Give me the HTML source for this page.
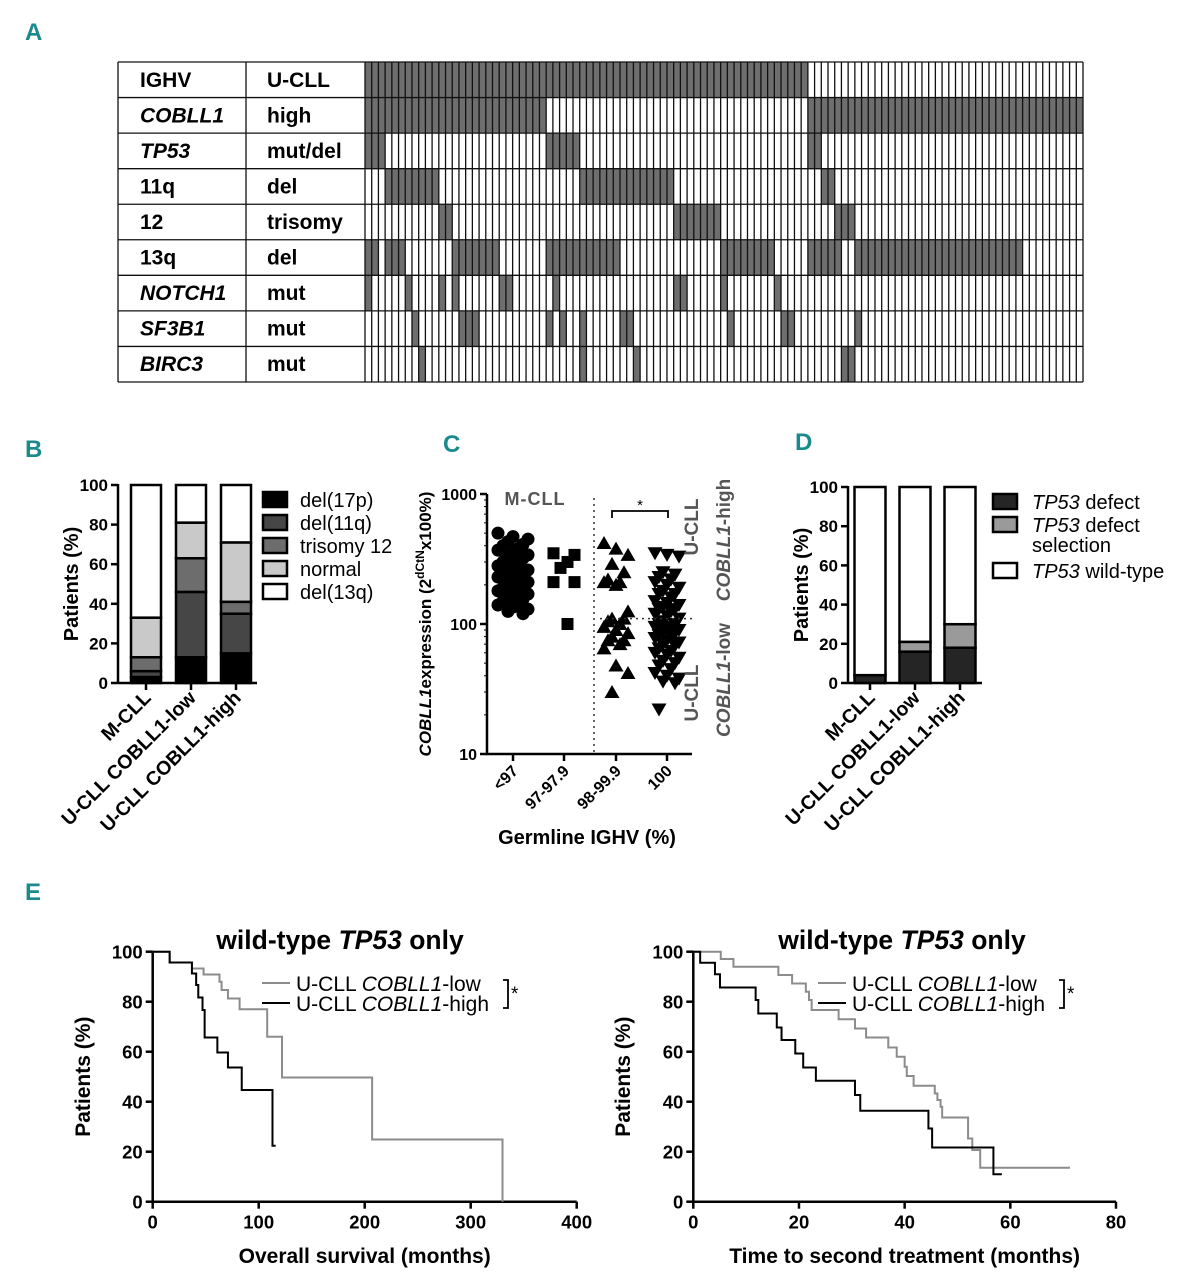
<!DOCTYPE html>
<html><head><meta charset="utf-8"><style>
html,body{margin:0;padding:0;background:#fff;}
svg{display:block;font-family:"Liberation Sans",Arial,sans-serif;}
.pl{font-family:"Liberation Sans Narrow","Liberation Sans",sans-serif;font-weight:bold;fill:#1b8a8c;font-size:24px;}
</style></head><body>
<svg id="fig" width="1177" height="1280" viewBox="0 0 1177 1280" xmlns="http://www.w3.org/2000/svg">
<text class="pl" x="25" y="40">A</text>
<text class="pl" x="25" y="457">B</text>
<text class="pl" x="443" y="452">C</text>
<text class="pl" x="795" y="450">D</text>
<text class="pl" x="25" y="900">E</text>
<g id="gA"></g>
<g id="gB"></g>
<g id="gC"></g>
<g id="gD"></g>
<g id="gE1"></g>
<g id="gE2"></g>
</svg>
<script>
// ---------- Panel A data ----------
const aLabels1 = ["IGHV","COBLL1","TP53","11q","12","13q","NOTCH1","SF3B1","BIRC3"];
const aItalic = [false,true,true,false,false,false,true,true,true];
const aLabels2 = ["U-CLL","high","mut/del","del","trisomy","del","mut","mut","mut"];
const aNumCols = 107;
const aRanges = [
 [[0,65]],
 [[0,26],[66,106]],
 [[0,2],[27,31],[66,67]],
 [[3,10],[32,45],[68,69]],
 [[11,12],[46,52],[70,72]],
 [[0,1],[3,5],[13,19],[27,37],[53,60],[66,70],[73,97]],
 [[0,0],[6,6],[11,11],[13,13],[20,21],[28,28],[46,47],[53,53],[61,61]],
 [[7,7],[14,16],[27,27],[29,29],[32,32],[38,39],[54,54],[62,63],[73,73]],
 [[8,8],[32,32],[40,40],[71,72]]
];
// ---------- Panel B data ----------
const bCats = ["M-CLL","U-CLL COBLL1-low","U-CLL COBLL1-high"];
const bSeries = ["del(17p)","del(11q)","trisomy 12","normal","del(13q)"];
const bDel17p = [3,13,15];
const bDel11q = [3,33,20];
const bTri12 = [7,17,6];
const bNormal = [20,18,30];
const bDel13q = [67,19,29];
const bTicks = [0,20,40,60,80,100];
// ---------- Panel C data ----------
const cCats = ["<97","97-97.9","98-99.9","100"];
const cTicks = [10,100,1000];
const cLt97 = [500,470,450,430,410,400,380,370,350,340,330,320,300,290,280,270,260,260,250,240,230,230,220,210,200,195,190,185,180,175,170,160,155,150,145,140,135,130,125,120];
const c97 = [350,340,300,270,210,210,100];
const c98 = [420,380,340,290,250,220,210,210,200,125,110,110,105,100,95,90,85,80,75,75,70,65,48,42,30];
const c100 = [350,340,330,250,240,230,220,210,200,190,180,170,170,160,150,145,140,135,130,130,125,120,115,110,105,100,100,95,95,92,90,88,85,82,80,78,75,72,70,68,65,62,60,58,55,52,50,48,45,42,40,38,36,35,22];
const cCutoff = 110;
// ---------- Panel D data ----------
const dCats = ["M-CLL","U-CLL COBLL1-low","U-CLL COBLL1-high"];
const dDefect = [4,16,18];
const dSelection = [0,5,12];
const dWild = [96,79,70];
// ---------- Panel E data ----------
const e1Ticks = [0,100,200,300,400];
const eYTicks = [0,20,40,60,80,100];
const e1LowT = [0,16,37,48,63,65,71,82,108,122,207,330];
const e1LowS = [100,95.7,93.3,90.9,88,84.7,81.3,77,66,49.7,24.9,0];
const e1LowEnd = 330;
const e1HighT = [0,16,37,41,43,47,49,61,71,84,113];
const e1HighS = [100,95.7,91.3,86.7,81.7,76.7,65.7,59.7,53.7,44.7,22.4];
const e1HighEnd = 116;
const e2Ticks = [0,20,40,60,80];
const e2LowT = [0,5.2,7.6,16.1,18.7,21.3,21.9,22.4,27.5,30.6,32.7,36.9,38.5,40,40.4,41.7,45.7,46.2,46.8,47.1,52,52.8,54.3];
const e2LowS = [100,97.1,94,90.7,87.3,84,80.7,76.7,73,69.3,65.7,61.7,58,54,50.3,46.4,43.3,40.7,38,33.7,25.3,20.7,13.6];
const e2LowEnd = 71.3;
const e2HighT = [0,1.3,4.1,5.05,11.8,12.3,15.8,16.7,19.3,20.8,23.2,30.6,31.6,44.5,45.2,56.8];
const e2HighS = [100,95.6,91,85.7,80.7,75.3,69.7,64.7,59.3,53.7,48.4,42.7,36.4,29.3,21.7,11];
const e2HighEnd = 58.4;

const NS="http://www.w3.org/2000/svg";
function mk(parent,tag,attrs,txt){const e=document.createElementNS(NS,tag);for(const k in attrs)e.setAttribute(k,attrs[k]);if(txt!==undefined)e.textContent=txt;parent.appendChild(e);return e;}

// ================= Panel A =================
(function(){
 const g=document.getElementById('gA');
 const x0=118,xm=246,xg=365,x1=1083,y0=62,y1=382;
 const rh=(y1-y0)/aLabels1.length, cw=(x1-xg)/aNumCols;
 for(let r=0;r<aLabels1.length;r++){
  const yy=y0+r*rh;
  for(const [a,b] of aRanges[r]){
   const f=mk(g,'rect',{x:xg+a*cw,y:yy,width:(b-a+1)*cw,height:rh,fill:'#6e6e6e'});
   
   
  }
  const t1=mk(g,'text',{x:140,y:yy+rh/2+7,'font-size':21,'font-weight':'bold','font-style':aItalic[r]?'italic':'normal'},aLabels1[r]);
  
  
  const t2=mk(g,'text',{x:267,y:yy+rh/2+7,'font-size':21,'font-weight':'bold'},aLabels2[r]);
  
  
 }
 let d='';
 for(let c=0;c<=aNumCols;c++){const x=xg+c*cw;d+=`M${x},${y0}V${y1}`;}
 for(let r=0;r<=aLabels1.length;r++){const y=y0+r*rh;d+=`M${x0},${y}H${x1}`;}
 d+=`M${x0},${y0}V${y1}M${xm},${y0}V${y1}`;
 const p=mk(g,'path',{d:d,stroke:'#111',fill:'none','stroke-width':1.3});
 
 
})();

function yAxis(g,ax,yTop,yBot,ticks,max,lab,labX){
 const sc=v=>yBot-(v/max)*(yBot-yTop);
 const l=mk(g,'line',{x1:ax,y1:yTop-1,x2:ax,y2:yBot,stroke:'#000','stroke-width':2.5});
 
 
 for(const t of ticks){
  const tk=mk(g,'line',{x1:ax-7,y1:sc(t),x2:ax,y2:sc(t),stroke:'#000','stroke-width':2.5});
  
  
  const tl=mk(g,'text',{x:ax-10,y:sc(t)+6,'font-size':17,'font-weight':'bold','text-anchor':'end'},t);
  
  
 }
 const yt=mk(g,'text',{x:labX,y:(yTop+yBot)/2,'font-size':20,'font-weight':'bold','text-anchor':'middle',transform:`rotate(-90 ${labX} ${(yTop+yBot)/2})`},lab);
 
 
 return sc;
}

// ================= Panel B =================
(function(){
 const g=document.getElementById('gB');
 const ax=118,yTop=485,yBot=683,bw=30,centers=[146,191,236];
 const sc=yAxis(g,ax,yTop,yBot,bTicks,100,'Patients (%)',78);
 const xl=mk(g,'line',{x1:ax,y1:yBot,x2:257,y2:yBot,stroke:'#000','stroke-width':2.5});
 
 
 const series=[bDel17p,bDel11q,bTri12,bNormal,bDel13q];
 const cols=['#000','#464646','#6d6d6d','#c9c9c9','#fff'];
 for(let i=0;i<bCats.length;i++){
  let acc=0;
  for(let s=0;s<series.length;s++){
   const v=series[s][i];
   const r=mk(g,'rect',{x:centers[i]-bw/2,y:sc(acc+v),width:bw,height:sc(acc)-sc(acc+v),fill:cols[s],stroke:'#000','stroke-width':2.5});
   
   
   acc+=v;
  }
  const tk=mk(g,'line',{x1:centers[i],y1:yBot,x2:centers[i],y2:yBot+7,stroke:'#000','stroke-width':2.5});
  
  
  const t=mk(g,'text',{x:centers[i]+6,y:yBot+16,'font-size':19.5,'font-weight':'bold','text-anchor':'end',transform:`rotate(-45 ${centers[i]+6} ${yBot+16})`},bCats[i]);
  
  
 }
 for(let s=0;s<bSeries.length;s++){
  const yy=492+s*23;
  const sw=mk(g,'rect',{x:263,y:yy,width:24,height:15,fill:cols[s],stroke:'#000','stroke-width':2.5});
  
  
  const lt=mk(g,'text',{x:300,y:yy+15,'font-size':20},bSeries[s]);
  
  
 }
})();

// ================= Panel C =================
(function(){
 const g=document.getElementById('gC');
 const ax=487,yTop=494,yBot=754,dec=130;
 const sc=v=>yBot-dec*Math.log10(v/10);
 const xs=[513,564,616,667];
 const l=mk(g,'path',{d:`M${ax},${yTop}V${yBot}H692`,stroke:'#000','stroke-width':2.5,fill:'none'});
 
 
 for(const t of cTicks){
  const tk=mk(g,'line',{x1:ax-7,y1:sc(t),x2:ax,y2:sc(t),stroke:'#000','stroke-width':2.5});
  
  
  const tl=mk(g,'text',{x:ax-10,y:sc(t)+6,'font-size':16,'font-weight':'bold','text-anchor':'end'},t);
  
  
 }
 for(let d=1;d<=2;d++)for(let m=2;m<=9;m++){
  const v=m*Math.pow(10,d);
  const mt=mk(g,'line',{x1:ax-3,y1:sc(v),x2:ax,y2:sc(v),stroke:'#000','stroke-width':1});
  
  
 }
 for(let i=0;i<cCats.length;i++){
  const tk=mk(g,'line',{x1:xs[i],y1:yBot,x2:xs[i],y2:yBot+7,stroke:'#000','stroke-width':2.5});
  
  
  const t=mk(g,'text',{x:xs[i]+6,y:yBot+18,'font-size':16,'font-weight':'bold','text-anchor':'end',transform:`rotate(-45 ${xs[i]+6} ${yBot+18})`},cCats[i]);
  
  
 }
 const xt=mk(g,'text',{x:587,y:844,'font-size':20,'font-weight':'bold','text-anchor':'middle'},'Germline IGHV (%)');
 
 
 const yt=mk(g,'text',{x:431,y:624,'font-size':17,'font-weight':'bold','text-anchor':'middle',transform:'rotate(-90 431 624)'});
 
 
 yt.innerHTML='<tspan font-style="italic">COBLL1</tspan>expression (2<tspan dy="-7" font-size="12">dCtN</tspan><tspan dy="7">x100%)</tspan>';
 const jit=i=>((i*3)%7-3)*5;
 cLt97.forEach((v,i)=>{
  const c=mk(g,'circle',{cx:xs[0]+jit(i),cy:sc(v),r:6.5,fill:'#000'});
  
  
 });
 c97.forEach((v,i)=>{
  const x=xs[1]+((i*3)%4-1.5)*7;
  const c=mk(g,'rect',{x:x-6,y:sc(v)-6,width:12,height:12,fill:'#000'});
  
  
 });
 c98.forEach((v,i)=>{
  const x=xs[2]+jit(i)*0.8,y=sc(v);
  const c=mk(g,'path',{d:`M${x},${y-7}L${x+7.5},${y+6}L${x-7.5},${y+6}Z`,fill:'#000'});
  
  
 });
 c100.forEach((v,i)=>{
  const x=xs[3]+jit(i)*0.8,y=sc(v);
  const c=mk(g,'path',{d:`M${x},${y+7}L${x+7.5},${y-6}L${x-7.5},${y-6}Z`,fill:'#000'});
  
  
 });
 const vl=mk(g,'line',{x1:594,y1:yTop+4,x2:594,y2:yBot,stroke:'#333','stroke-width':1.5,'stroke-dasharray':'2 4'});
 
 
 const hl=mk(g,'line',{x1:600,y1:sc(cCutoff),x2:692,y2:sc(cCutoff),stroke:'#333','stroke-width':1.5,'stroke-dasharray':'2 4'});
 
 
 const br=mk(g,'path',{d:'M612,518V511H668V518',stroke:'#000','stroke-width':1.8,fill:'none'});
 
 
 const st=mk(g,'text',{x:640,y:510,'font-size':15,'text-anchor':'middle'},'*');
 
 
 const m=mk(g,'text',{x:535,y:505,'font-size':18,'font-weight':'bold',fill:'#555','text-anchor':'middle','letter-spacing':'1'},'M-CLL');
 
 
 const labs=[[698,527,'U-CLL',false],[730,540,'COBLL1-high',true],[698,693,'U-CLL',false],[730,680,'COBLL1-low',true]];
 for(const [x,y,s,it] of labs){
  const t=mk(g,'text',{x:x,y:y,'font-size':19,'font-weight':'bold',fill:'#555','text-anchor':'middle',transform:`rotate(-90 ${x} ${y})`});
  
  
  if(it){const p=s.split('-');t.innerHTML=`<tspan font-style="italic">${p[0]}</tspan>-${p[1]}`;}else t.textContent=s;
 }
})();

// ================= Panel D =================
(function(){
 const g=document.getElementById('gD');
 const ax=848,yTop=487,yBot=683,bw=31,centers=[870,915,960];
 const sc=yAxis(g,ax,yTop,yBot,bTicks,100,'Patients (%)',808);
 const xl=mk(g,'line',{x1:ax,y1:yBot,x2:982,y2:yBot,stroke:'#000','stroke-width':2.5});
 
 
 const series=[dDefect,dSelection,dWild];
 const cols=['#252525','#9a9a9a','#fff'];
 for(let i=0;i<dCats.length;i++){
  let acc=0;
  for(let s=0;s<series.length;s++){
   const v=series[s][i];
   if(v<=0)continue;
   const r=mk(g,'rect',{x:centers[i]-bw/2,y:sc(acc+v),width:bw,height:sc(acc)-sc(acc+v),fill:cols[s],stroke:'#000','stroke-width':2.5});
   
   
   acc+=v;
  }
  const tk=mk(g,'line',{x1:centers[i],y1:yBot,x2:centers[i],y2:yBot+7,stroke:'#000','stroke-width':2.5});
  
  
  const t=mk(g,'text',{x:centers[i]+6,y:yBot+16,'font-size':19.5,'font-weight':'bold','text-anchor':'end',transform:`rotate(-45 ${centers[i]+6} ${yBot+16})`},dCats[i]);
  
  
 }
 const ly=[494,517,563];
 const lt=['<tspan font-style="italic">TP53</tspan> defect','<tspan font-style="italic">TP53</tspan> defect','<tspan font-style="italic">TP53</tspan> wild-type'];
 for(let s=0;s<3;s++){
  const sw=mk(g,'rect',{x:993,y:ly[s],width:24,height:15,fill:cols[s],stroke:'#000','stroke-width':2.5});
  
  
  const t=mk(g,'text',{x:1032,y:ly[s]+15,'font-size':20});
  
  
  t.innerHTML=lt[s];
 }
 const t2=mk(g,'text',{x:1032,y:552,'font-size':20},'selection');
 
 
})();

// ================= Panel E =================
function km(gid,ax,xMax,xPix,ticks,lowT,lowS,lowEnd,highT,highS,highEnd,xTitle,titleX,yLabX,legX,bx){
 const g=document.getElementById(gid);
 const yTop=951.7,yBot=1201.7,xEnd=ax+xPix;
 const sx=v=>ax+v/xMax*xPix, sy=v=>yBot-v/100*(yBot-yTop);
 const a=mk(g,'path',{d:`M${ax},${yTop-1}V${yBot}H${xEnd}`,stroke:'#000','stroke-width':2.5,fill:'none'});
 
 
 for(const t of eYTicks){
  const tk=mk(g,'line',{x1:ax-7,y1:sy(t),x2:ax,y2:sy(t),stroke:'#000','stroke-width':2.5});
  
  
  const tl=mk(g,'text',{x:ax-10,y:sy(t)+7,'font-size':18.5,'font-weight':'bold','text-anchor':'end'},t);
  
  
 }
 for(const t of ticks){
  const tk=mk(g,'line',{x1:sx(t),y1:yBot,x2:sx(t),y2:yBot+7,stroke:'#000','stroke-width':2.5});
  
  
  const tl=mk(g,'text',{x:sx(t),y:yBot+27,'font-size':18.5,'font-weight':'bold','text-anchor':'middle'},t);
  
  
 }
 const xt=mk(g,'text',{x:(ax+xEnd)/2,y:1263,'font-size':21,'font-weight':'bold','text-anchor':'middle'},xTitle);
 
 
 const yc=(yTop+yBot)/2;
 const yt=mk(g,'text',{x:yLabX,y:yc,'font-size':21,'font-weight':'bold','text-anchor':'middle',transform:`rotate(-90 ${yLabX} ${yc})`},'Patients (%)');
 
 
 const tt=mk(g,'text',{x:titleX,y:949,'font-size':26.5,'font-weight':'bold','text-anchor':'middle'});
 
 
 tt.innerHTML='wild-type <tspan font-style="italic">TP53</tspan> only';
 function step(T,S,end){
  let d=`M${sx(T[0])},${sy(S[0])}`;
  for(let i=1;i<T.length;i++){d+=`H${sx(T[i])}V${sy(S[i])}`;}
  d+=`H${sx(end)}`;return d;
 }
 const lo=mk(g,'path',{d:step(lowT,lowS,lowEnd),stroke:'#8c8c8c','stroke-width':2,fill:'none'});
 
 
 const hi=mk(g,'path',{d:step(highT,highS,highEnd),stroke:'#000','stroke-width':2,fill:'none'});
 
 
 const l1=mk(g,'line',{x1:legX,y1:983,x2:legX+28,y2:983,stroke:'#8c8c8c','stroke-width':2});
 
 
 const l2=mk(g,'line',{x1:legX,y1:1003,x2:legX+28,y2:1003,stroke:'#000','stroke-width':2});
 
 
 const e1=mk(g,'text',{x:legX+34,y:991,'font-size':21});
 
 
 e1.innerHTML='U-CLL <tspan font-style="italic">COBLL1</tspan>-low';
 const e2=mk(g,'text',{x:legX+34,y:1011,'font-size':21});
 
 
 e2.innerHTML='U-CLL <tspan font-style="italic">COBLL1</tspan>-high';
 const b=mk(g,'path',{d:`M${bx-5},980H${bx}V1008H${bx-5}`,stroke:'#000','stroke-width':1.8,fill:'none'});
 
 
 const s=mk(g,'text',{x:bx+3,y:1000,'font-size':19},'*');
 
 
}
km('gE1',152.7,400,424,e1Ticks,e1LowT,e1LowS,e1LowEnd,e1HighT,e1HighS,e1HighEnd,'Overall survival (months)',340,90,262,508);
km('gE2',693.3,80,422.7,e2Ticks,e2LowT,e2LowS,e2LowEnd,e2HighT,e2HighS,e2HighEnd,'Time to second treatment (months)',902,630,818,1064);
</script>
</body></html>
